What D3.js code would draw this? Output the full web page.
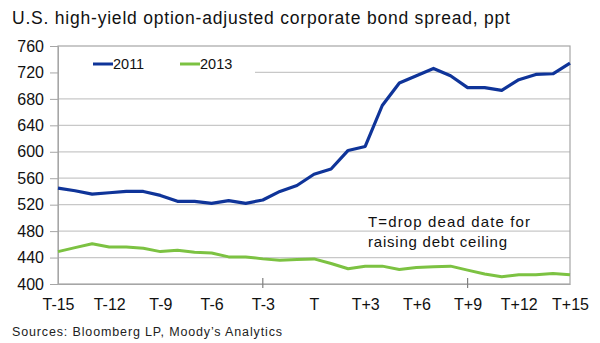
<!DOCTYPE html>
<html><head><meta charset="utf-8">
<script src="https://cdn.jsdelivr.net/npm/d3@7"></script>
<style>body{margin:0;background:#fff}svg{display:block;font-family:"Liberation Sans",Arial,sans-serif}</style>
</head><body><svg id="c" width="600" height="343"></svg>
<script>
const categories = ["T-15","T-14","T-13","T-12","T-11","T-10","T-9","T-8","T-7","T-6","T-5","T-4","T-3","T-2","T-1","T","T+1","T+2","T+3","T+4","T+5","T+6","T+7","T+8","T+9","T+10","T+11","T+12","T+13","T+14","T+15"];
const series2011 = [545,541,536,538,540,540,534,525,525,522,526,522,527,540,549,566,574,602,608,670,704,715,726,715,697,697,693,709,717,718,734];
const series2013 = [449,455,461,456,456,454,449,451,448,447,441,441,438,436,437,438,431,423,427,427,422,425,426,427,421,415,411,414,414,416,414];
const yTicks = [400,440,480,520,560,600,640,680,720,760];
const xLabelEvery = 3;
const majorTickEvery = 12;

const svg = d3.select("#c");
const L = 58, R = 570, T = 46, B = 284;
const x = d3.scalePoint().domain(categories).range([L, R]);
const y = d3.scaleLinear().domain([400, 760]).range([B, T]);

svg.append("text").attr("x", 12).attr("y", 24).attr("font-size", 17.5).attr("fill", "#111")
  .attr("textLength", 498).attr("lengthAdjust", "spacing")
  .text("U.S. high-yield option-adjusted corporate bond spread, ppt");

// gridlines
svg.append("g").selectAll("line").data(yTicks.filter(d => d > 400 && d < 760)).join("line")
  .attr("x1", L).attr("x2", R).attr("y1", d => y(d)).attr("y2", d => y(d))
  .attr("stroke", "#c8c8c8").attr("stroke-width", 1.2);

// frame
svg.append("rect").attr("x", L).attr("y", T).attr("width", R - L).attr("height", B - T)
  .attr("fill", "none").attr("stroke", "#a6a6a6").attr("stroke-width", 1.2);

// y axis
const ya = svg.append("g").attr("transform", `translate(${L},0)`)
  .call(d3.axisLeft(y).tickValues(yTicks).tickSize(8).tickPadding(6));
ya.select(".domain").attr("stroke", "#a6a6a6");
ya.selectAll(".tick line").attr("stroke", "#a6a6a6");
ya.selectAll("text").attr("font-size", 16).attr("fill", "#111").attr("font-family", "Liberation Sans, Arial, sans-serif");

// x axis
const xa = svg.append("g").attr("transform", `translate(0,${B})`)
  .call(d3.axisBottom(x).tickValues(categories.filter((d, i) => i % xLabelEvery === 0)).tickSize(0));
xa.select(".domain").attr("stroke", "#a6a6a6");
xa.selectAll("text").attr("font-size", 16).attr("fill", "#111").attr("font-family", "Liberation Sans, Arial, sans-serif")
  .attr("y", 26).attr("dy", 0);
svg.append("g").selectAll("line").data(categories.filter((d, i) => i % majorTickEvery === 0 && i > 0 && i < categories.length - 1)).join("line")
  .attr("x1", d => x(d)).attr("x2", d => x(d)).attr("y1", B - 6).attr("y2", B + 4)
  .attr("stroke", "#808080").attr("stroke-width", 1.2);

// legend background box
svg.append("rect").attr("x", L + 1).attr("y", 56).attr("width", 196).attr("height", 24).attr("fill", "#fff");

const line = d3.line().x((d, i) => x(categories[i])).y(d => y(d));
svg.append("path").datum(series2013).attr("d", line).attr("fill", "none")
  .attr("stroke", "#7cc242").attr("stroke-width", 3).attr("stroke-linejoin", "round");
svg.append("path").datum(series2011).attr("d", line).attr("fill", "none")
  .attr("stroke", "#0f3499").attr("stroke-width", 3.2).attr("stroke-linejoin", "round");

// legend
const leg = [{n: "2011", c: "#0f3499", x: 93}, {n: "2013", c: "#7cc242", x: 180}];
leg.forEach(l => {
  svg.append("line").attr("x1", l.x).attr("x2", l.x + 20).attr("y1", 64).attr("y2", 64).attr("stroke", l.c).attr("stroke-width", 3);
  svg.append("text").attr("x", l.x + 20).attr("y", 69).attr("font-size", 14.5).attr("fill", "#111").text(l.n);
});

// annotation
svg.append("text").attr("x", 368).attr("y", 227).attr("font-size", 15).attr("fill", "#111")
  .attr("textLength", 162).attr("lengthAdjust", "spacing").text("T=drop dead date for");
svg.append("text").attr("x", 368).attr("y", 247).attr("font-size", 15).attr("fill", "#111")
  .attr("textLength", 139).attr("lengthAdjust", "spacing").text("raising debt ceiling");

svg.append("text").attr("x", 12).attr("y", 336).attr("font-size", 12.5).attr("fill", "#222")
  .attr("textLength", 270).attr("lengthAdjust", "spacing")
  .text("Sources: Bloomberg LP, Moody\u2019s Analytics");
</script></body></html>
